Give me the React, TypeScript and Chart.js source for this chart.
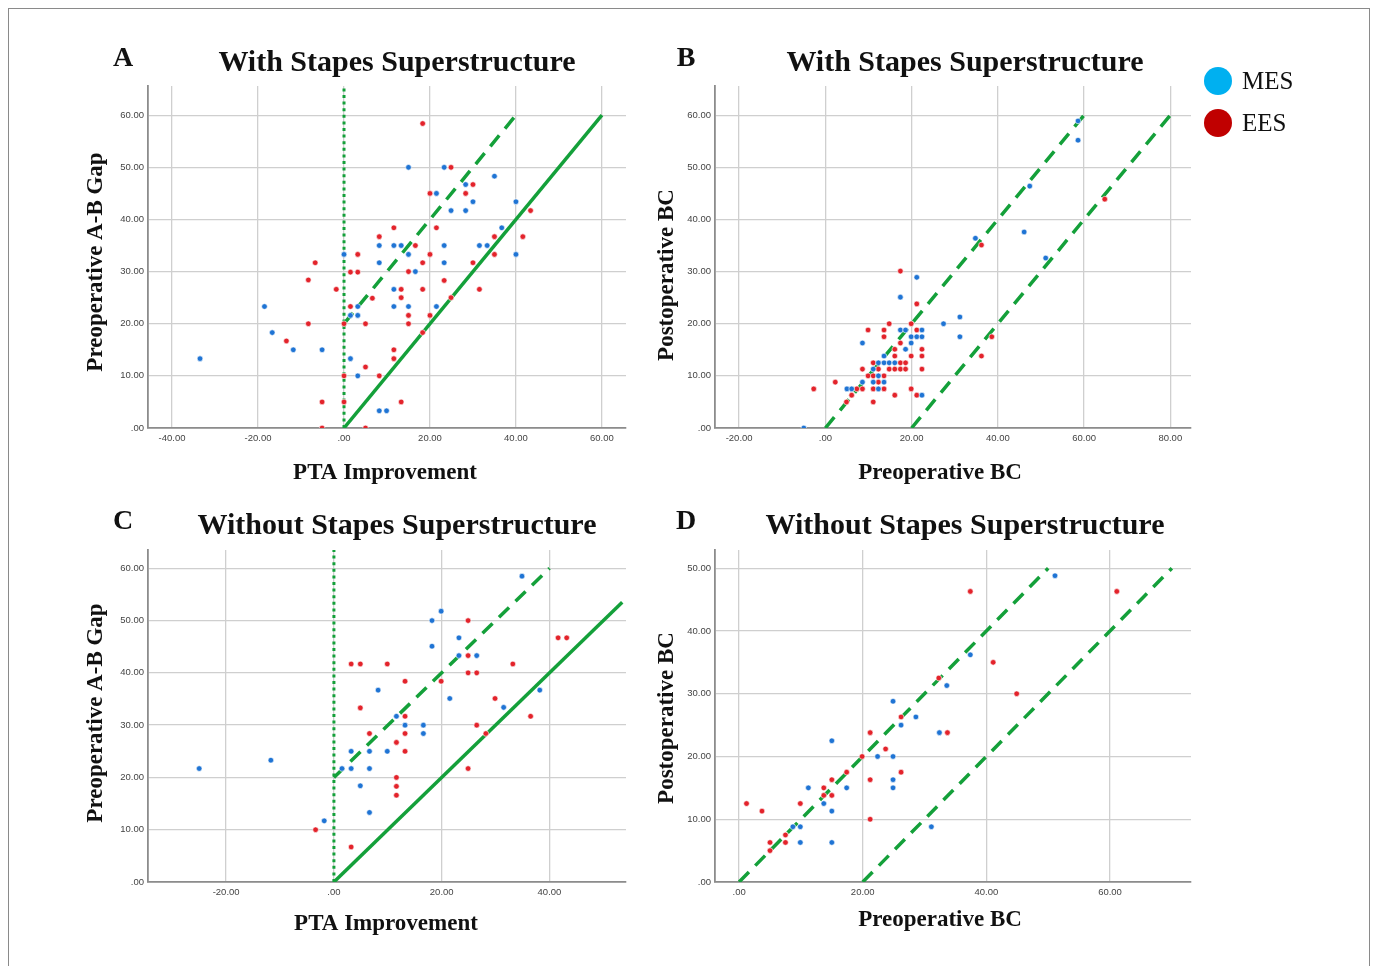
import React, { useEffect, useRef } from 'react';
import { Chart, registerables } from 'chart.js';

Chart.register(...registerables);

type Pt = [number, number];

// ---------- Panel A: With Stapes Superstructure (PTA improvement vs preoperative A-B gap)
const A_X_TICKS = [-40, -20, 0, 20, 40, 60];
const A_Y_TICKS = [0, 10, 20, 30, 40, 50, 60];
const A_MES: Pt[] = [
  [8.2, 35], [0, 33.3], [8.2, 31.7], [-18.5, 23.3], [1.5, 21.6], [3.2, 21.6], [3.2, 23.3],
  [-16.7, 18.3], [-11.8, 15], [-5.1, 15], [1.5, 13.3], [3.2, 10], [8.2, 3.3], [9.9, 3.3], [-33.5, 13.3],
  [15, 50], [23.3, 50], [35, 48.3], [28.3, 46.7], [21.5, 45], [30, 43.4], [40, 43.4], [24.9, 41.7],
  [28.3, 41.7], [36.7, 38.4], [11.6, 35], [13.3, 35], [23.3, 35], [31.5, 35], [33.3, 35], [15, 33.3],
  [40, 33.3], [23.3, 31.7], [16.6, 30], [11.6, 26.6], [11.6, 23.3], [15, 23.3], [21.5, 23.3],
];
const A_EES: Pt[] = [
  [8.2, 36.7], [3.2, 33.3], [-6.7, 31.7], [1.5, 29.9], [3.2, 29.9], [-8.3, 28.4], [-1.8, 26.6],
  [6.6, 24.9], [1.5, 23.3], [-8.3, 20], [0, 20], [5, 20], [-13.4, 16.7], [5, 11.7], [0, 10], [8.2, 10],
  [-5.1, 5], [0, 5], [-5.1, 0], [5, 0],
  [18.3, 58.4], [24.9, 50], [20, 45], [28.3, 45], [30, 46.7], [43.4, 41.7], [11.6, 38.4], [21.5, 38.4],
  [35, 36.7], [41.6, 36.7], [16.6, 35], [20, 33.3], [35, 33.3], [18.3, 31.7], [30, 31.7], [15, 30],
  [23.3, 28.3], [13.3, 26.6], [18.3, 26.6], [31.5, 26.6], [13.3, 25], [24.9, 25], [15, 21.6], [20, 21.6],
  [15, 20], [18.3, 18.3], [11.6, 15], [11.6, 13.3], [13.3, 5],
];
const A_SOLID: Pt[] = [[0, 0], [60, 60]];
const A_DASH: Pt[] = [[0, 20], [40, 60]];
const A_DOT: Pt[] = [[0, 0], [0, 66]];

// ---------- Panel B: With Stapes Superstructure (preoperative BC vs postoperative BC)
const B_X_TICKS = [-20, 0, 20, 40, 60, 80];
const B_Y_TICKS = [0, 10, 20, 30, 40, 50, 60];
const B_MES: Pt[] = [
  [58.6, 58.9], [58.6, 55.2], [47.4, 46.4], [46.1, 37.6], [34.8, 36.4], [51.1, 32.6], [21.2, 28.9],
  [17.4, 25.1], [27.4, 20.0], [31.2, 21.3], [31.2, 17.5], [8.6, 16.3], [-5, 0],
  [17.4, 18.8], [18.6, 18.8], [22.4, 18.8], [19.9, 17.5], [21.2, 17.5], [22.4, 17.5], [19.9, 16.3],
  [18.6, 15.1], [13.6, 13.8], [12.3, 12.5], [13.6, 12.5], [14.8, 12.5], [16.1, 12.5], [11.1, 11.3],
  [12.3, 10.0], [8.6, 8.8], [11.1, 8.8], [13.6, 8.8], [5.0, 7.5], [6.1, 7.5], [12.3, 7.5], [22.4, 6.3],
];
const B_EES: Pt[] = [
  [64.8, 43.9], [36.2, 35.1], [17.4, 30.1], [21.2, 23.8], [38.6, 17.5], [36.2, 13.8], [-2.7, 7.5],
  [2.3, 8.8], [4.9, 5], [9.9, 18.8], [13.6, 18.8], [21.2, 18.8], [14.8, 20.0], [19.9, 20.0], [13.6, 17.5],
  [17.4, 16.3], [16.1, 15.1], [22.4, 15.1], [16.1, 13.8], [19.9, 13.8], [22.4, 13.8], [11.1, 12.5],
  [17.4, 12.5], [18.6, 12.5], [8.6, 11.3], [12.3, 11.3], [14.8, 11.3], [16.1, 11.3], [17.4, 11.3],
  [18.6, 11.3], [22.4, 11.3], [9.9, 10.0], [11.1, 10.0], [13.6, 10.0], [12.3, 8.8], [7.3, 7.5],
  [8.6, 7.5], [11.1, 7.5], [13.6, 7.5], [19.9, 7.5], [6.1, 6.3], [16.1, 6.3], [21.2, 6.3], [11.1, 5],
];
const B_DASH_1: Pt[] = [[0, 0], [60, 60]];
const B_DASH_2: Pt[] = [[20, 0], [80, 60]];

// ---------- Panel C: Without Stapes Superstructure (PTA improvement vs preoperative A-B gap)
const C_X_TICKS = [-20, 0, 20, 40];
const C_Y_TICKS = [0, 10, 20, 30, 40, 50, 60];
const C_MES: Pt[] = [
  [8.2, 36.7], [3.2, 25], [6.6, 25], [9.9, 25], [1.5, 21.7], [3.2, 21.7], [6.6, 21.7], [4.9, 18.4],
  [6.6, 13.3], [-1.8, 11.7], [-11.7, 23.3], [-25, 21.7],
  [34.9, 58.5], [19.9, 51.8], [18.2, 50], [23.2, 46.7], [18.2, 45.1], [23.2, 43.3], [26.5, 43.3],
  [21.5, 35.1], [38.2, 36.7], [31.5, 33.4], [11.6, 31.7], [13.2, 30], [16.6, 30], [16.6, 28.4],
];
const C_EES: Pt[] = [
  [3.2, 41.7], [4.9, 41.7], [9.9, 41.7], [4.9, 33.3], [6.6, 28.4], [-3.4, 10], [3.2, 6.7],
  [24.9, 50], [41.6, 46.7], [43.2, 46.7], [24.9, 43.3], [33.2, 41.7], [24.9, 40], [26.5, 40],
  [19.9, 38.4], [13.2, 38.4], [29.9, 35.1], [36.5, 31.7], [13.2, 31.7], [26.5, 30], [13.2, 28.4],
  [11.6, 26.7], [13.2, 25], [28.2, 28.4], [24.9, 21.7], [11.6, 20], [11.6, 18.3], [11.6, 16.6],
];
const C_SOLID: Pt[] = [[0, 0], [53.5, 53.5]];
const C_DASH: Pt[] = [[0, 20], [40, 60]];
const C_DOT: Pt[] = [[0, 0], [0, 64]];

// ---------- Panel D: Without Stapes Superstructure (preoperative BC vs postoperative BC)
const D_X_TICKS = [0, 20, 40, 60];
const D_Y_TICKS = [0, 10, 20, 30, 40, 50];
const D_MES: Pt[] = [
  [32.4, 23.8], [33.6, 31.3], [24.9, 28.8], [28.6, 26.3], [26.2, 25], [15, 22.5], [22.4, 20],
  [24.9, 20], [24.9, 16.3], [24.9, 15], [17.4, 15], [11.2, 15], [13.7, 12.5], [15, 11.3], [8.7, 8.8],
  [9.9, 8.8], [9.9, 6.3], [15, 6.3], [31.1, 8.8], [51.1, 48.8], [37.4, 36.2],
];
const D_EES: Pt[] = [
  [32.3, 32.5], [33.7, 23.8], [26.2, 26.3], [21.2, 23.8], [23.7, 21.2], [19.9, 20], [17.4, 17.5],
  [26.2, 17.5], [21.2, 16.3], [15, 16.3], [13.7, 15], [13.7, 13.8], [15, 13.8], [9.9, 12.5], [21.2, 10],
  [1.2, 12.5], [3.7, 11.3], [7.5, 7.5], [5, 6.3], [7.5, 6.3], [5, 5], [37.4, 46.3], [61.1, 46.3],
  [41.1, 35], [44.9, 30],
];
const D_DASH_1: Pt[] = [[0, 0], [50, 50]];
const D_DASH_2: Pt[] = [[20, 0], [70, 50]];

// ---------- Text
const SERIES_NAMES = ['MES', 'EES'];
const PANEL_LETTERS = ['A', 'B', 'C', 'D'];
const PANEL_TITLES = [
  'With Stapes Superstructure',
  'With Stapes Superstructure',
  'Without Stapes Superstructure',
  'Without Stapes Superstructure',
];
const X_TITLES = ['PTA Improvement', 'Preoperative BC', 'PTA Improvement', 'Preoperative BC'];
const Y_TITLES = ['Preoperative A-B Gap', 'Postoperative BC', 'Preoperative A-B Gap', 'Postoperative BC'];

// ---------- Styles
const MES_COLOR = '#1f74d4';
const EES_COLOR = '#e3232b';
const LEGEND_MES = '#00b0f0';
const LEGEND_EES = '#c00000';
const GREEN = '#14a03a';
const GRID = '#cfcfcf';
const AXIS = '#8c8c8c';

type LineSpec = { pts: Pt[]; kind: 'solid' | 'dash' | 'dot' };
type PanelCfg = {
  idx: number;
  mes: Pt[];
  ees: Pt[];
  lines: LineSpec[];
  xTicks: number[];
  yTicks: number[];
  xMin: number; xMax: number; yMin: number; yMax: number;
  L: number; T: number; R: number; B: number;
  titleX: number; titleY: number; xTitleX: number; xTitleY: number; yTitleX: number; yTitleY: number;
  letterX: number; letterY: number;
};

const PANELS: PanelCfg[] = [
  {
    idx: 0, mes: A_MES, ees: A_EES,
    lines: [{ pts: A_SOLID, kind: 'solid' }, { pts: A_DASH, kind: 'dash' }, { pts: A_DOT, kind: 'dot' }],
    xTicks: A_X_TICKS, yTicks: A_Y_TICKS, xMin: -45.6, xMax: 65.6, yMin: 0, yMax: 65.6,
    L: 148, T: 86, R: 626, B: 428, titleX: 397, titleY: 63, xTitleX: 385, xTitleY: 473, yTitleX: 96, yTitleY: 262,
    letterX: 123, letterY: 58,
  },
  {
    idx: 1, mes: B_MES, ees: B_EES,
    lines: [{ pts: B_DASH_1, kind: 'dash' }, { pts: B_DASH_2, kind: 'dash' }],
    xTicks: B_X_TICKS, yTicks: B_Y_TICKS, xMin: -25.6, xMax: 84.8, yMin: 0, yMax: 65.6,
    L: 715, T: 86, R: 1191, B: 428, titleX: 965, titleY: 63, xTitleX: 940, xTitleY: 473, yTitleX: 667, yTitleY: 275,
    letterX: 686, letterY: 58,
  },
  {
    idx: 2, mes: C_MES, ees: C_EES,
    lines: [{ pts: C_SOLID, kind: 'solid' }, { pts: C_DASH, kind: 'dash' }, { pts: C_DOT, kind: 'dot' }],
    xTicks: C_X_TICKS, yTicks: C_Y_TICKS, xMin: -34.5, xMax: 54.2, yMin: 0, yMax: 63.5,
    L: 148, T: 550, R: 626, B: 882, titleX: 397, titleY: 526, xTitleX: 386, xTitleY: 924, yTitleX: 96, yTitleY: 713,
    letterX: 123, letterY: 521,
  },
  {
    idx: 3, mes: D_MES, ees: D_EES,
    lines: [{ pts: D_DASH_1, kind: 'dash' }, { pts: D_DASH_2, kind: 'dash' }],
    xTicks: D_X_TICKS, yTicks: D_Y_TICKS, xMin: -3.9, xMax: 73.1, yMin: 0, yMax: 52.9,
    L: 715, T: 550, R: 1191, B: 882, titleX: 965, titleY: 526, xTitleX: 940, xTitleY: 920, yTitleX: 667, yTitleY: 718,
    letterX: 686, letterY: 521,
  },
];

const TITLE_SIZE = 30;
const TITLE_LH = 1.2;
const AXIS_TITLE_SIZE = 23;
const TICK_SIZE = 9.5;

const fmtTick = (v: number | string) => {
  const n = Number(v);
  return n === 0 ? '.00' : n.toFixed(2);
};

function geom(p: PanelCfg) {
  const cl = p.yTitleX - 30;
  const ct = p.titleY - 25;
  const cr = p.R + 20;
  const cb = p.xTitleY + 20;
  return { cl, ct, cw: cr - cl, ch: cb - ct };
}

function Panel({ p }: { p: PanelCfg }) {
  const ref = useRef<HTMLCanvasElement | null>(null);
  const g = geom(p);

  useEffect(() => {
    if (!ref.current) return;
    const half = AXIS_TITLE_SIZE / 2;
    const padLeft = p.yTitleX - half - g.cl;
    const yScaleW = p.L - g.cl - padLeft;
    const padRight = g.cl + g.cw - p.R;
    const titleH = TITLE_SIZE * TITLE_LH;
    const padTop = p.titleY - titleH / 2 - g.ct;
    const titlePadBottom = p.T - (p.titleY + titleH / 2);
    const xScaleH = p.xTitleY + half - p.B;
    const padBottom = g.ct + g.ch - (p.xTitleY + half);

    const lineDatasets = p.lines.map((ln) => ({
      type: 'line' as const,
      data: ln.pts.map(([x, y]) => ({ x, y })),
      borderColor: GREEN,
      backgroundColor: GREEN,
      borderWidth: ln.kind === 'dot' ? 3 : 3.5,
      borderDash: ln.kind === 'dash' ? [14, 9] : ln.kind === 'dot' ? [3, 3.6] : [],
      borderCapStyle: 'butt' as const,
      pointRadius: 0,
      showLine: true,
      fill: false,
      tension: 0,
      order: 2,
    }));

    // place the panel title / axis titles at their measured centres
    const placeTexts = {
      id: 'placeTexts',
      afterLayout(chart: any) {
        const tb = chart.titleBlock;
        if (tb) {
          const w = tb.right - tb.left;
          const cx = p.titleX - g.cl;
          tb.left = cx - w / 2;
          tb.right = cx + w / 2;
        }
        const xs = chart.scales.x;
        const ys = chart.scales.y;
        const dx = p.xTitleX - g.cl - (xs.left + xs.right) / 2;
        const dy = p.yTitleY - g.ct - (ys.top + ys.bottom) / 2;
        if (!xs.__wrapped) {
          const origX = xs.drawTitle.bind(xs);
          xs.drawTitle = () => {
            const l = xs.left, r = xs.right;
            xs.left = l + xs.__dx; xs.right = r + xs.__dx;
            origX();
            xs.left = l; xs.right = r;
          };
          const origY = ys.drawTitle.bind(ys);
          ys.drawTitle = () => {
            const t = ys.top, b = ys.bottom;
            ys.top = t + ys.__dy; ys.bottom = b + ys.__dy;
            origY();
            ys.top = t; ys.bottom = b;
          };
          xs.__wrapped = true;
        }
        xs.__dx = dx;
        ys.__dy = dy;
      },
    };

    const tickFont = { family: 'Liberation Sans', size: TICK_SIZE };
    const axisTitleFont = { family: 'Liberation Serif', size: AXIS_TITLE_SIZE, weight: 'bold' as const, lineHeight: 1 };

    const chart = new Chart(ref.current, {
      type: 'scatter',
      data: {
        datasets: [
          {
            label: SERIES_NAMES[0],
            data: p.mes.map(([x, y]) => ({ x, y })),
            backgroundColor: MES_COLOR,
            borderColor: '#ffffff',
            borderWidth: 0.6,
            pointRadius: 2.8,
            order: 0,
          },
          {
            label: SERIES_NAMES[1],
            data: p.ees.map(([x, y]) => ({ x, y })),
            backgroundColor: EES_COLOR,
            borderColor: '#ffffff',
            borderWidth: 0.6,
            pointRadius: 2.8,
            order: 1,
          },
          ...lineDatasets,
        ] as any,
      },
      options: {
        responsive: false,
        animation: false,
        devicePixelRatio: 1,
        events: [],
        layout: { padding: { left: padLeft, right: padRight, top: padTop, bottom: padBottom } },
        plugins: {
          legend: { display: false },
          tooltip: { enabled: false },
          title: {
            display: true,
            text: PANEL_TITLES[p.idx],
            fullSize: false,
            color: '#111111',
            font: { family: 'Liberation Serif', size: TITLE_SIZE, weight: 'bold', lineHeight: TITLE_LH },
            padding: { top: 0, bottom: titlePadBottom },
          },
        },
        scales: {
          x: {
            type: 'linear',
            position: 'bottom',
            min: p.xMin,
            max: p.xMax,
            afterBuildTicks: (s: any) => { s.ticks = p.xTicks.map((v) => ({ value: v })); },
            afterFit: (s: any) => { s.height = xScaleH; },
            grid: { color: GRID, lineWidth: 1.3, drawTicks: false },
            border: { color: AXIS, width: 1.8 },
            ticks: { font: tickFont, color: '#444444', padding: 5, maxRotation: 0, autoSkip: false, callback: fmtTick },
            title: { display: true, text: X_TITLES[p.idx], color: '#111111', font: axisTitleFont, padding: 0 },
          },
          y: {
            type: 'linear',
            position: 'left',
            min: p.yMin,
            max: p.yMax,
            afterBuildTicks: (s: any) => { s.ticks = p.yTicks.map((v) => ({ value: v })); },
            afterFit: (s: any) => { s.width = yScaleW; },
            grid: { color: GRID, lineWidth: 1.3, drawTicks: false },
            border: { color: AXIS, width: 1.8 },
            ticks: { font: tickFont, color: '#444444', padding: 4, autoSkip: false, callback: fmtTick },
            title: { display: true, text: Y_TITLES[p.idx], color: '#111111', font: axisTitleFont, padding: 0 },
          },
        },
      } as any,
      plugins: [placeTexts],
    });
    return () => chart.destroy();
  }, []);

  return (
    <canvas
      ref={ref}
      width={g.cw}
      height={g.ch}
      style={{ position: 'absolute', left: g.cl, top: g.ct, width: g.cw, height: g.ch }}
    />
  );
}

const serif = "'Liberation Serif', 'Times New Roman', serif";

export default function App() {
  return (
    <div style={{ fontFamily: serif }}>
      <div
        style={{
          position: 'absolute', left: 8, top: 8, width: 1362, height: 958,
          borderLeft: '1px solid #8a8a8a', borderTop: '1px solid #8a8a8a', borderRight: '1px solid #8a8a8a',
          boxSizing: 'border-box',
        }}
      />
      {PANELS.map((p) => (
        <Panel key={p.idx} p={p} />
      ))}
      {PANELS.map((p) => (
        <div
          key={'l' + p.idx}
          style={{
            position: 'absolute', left: p.letterX - 12, top: p.letterY - 15, width: 24, textAlign: 'center',
            fontFamily: serif, fontWeight: 'bold', fontSize: 28, lineHeight: '28px', color: '#111',
          }}
        >
          {PANEL_LETTERS[p.idx]}
        </div>
      ))}
      {[LEGEND_MES, LEGEND_EES].map((c, i) => (
        <div key={'lg' + i} style={{ position: 'absolute', left: 1204, top: 67 + i * 42, height: 28 }}>
          <div
            style={{
              position: 'absolute', left: 0, top: 0, width: 28, height: 28, borderRadius: '50%', background: c,
            }}
          />
          <div
            style={{
              position: 'absolute', left: 38, top: 0, lineHeight: '28px', fontSize: 25, fontFamily: serif,
              color: '#111', whiteSpace: 'nowrap',
            }}
          >
            {SERIES_NAMES[i]}
          </div>
        </div>
      ))}
    </div>
  );
}
